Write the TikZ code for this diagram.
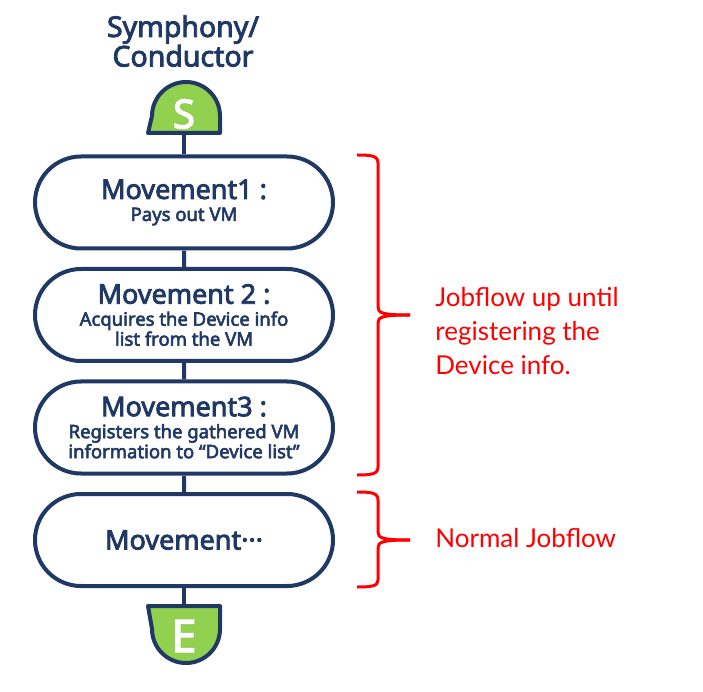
\documentclass[tikz,border=0pt]{standalone}
\usepackage{fontspec}
\usepackage{tikz}
\usetikzlibrary{shapes.misc}

\newfontfamily\notobold{Noto Sans}[FakeBold=3]
\newfontfamily\latofont{Lato}
\definecolor{navy}{RGB}{31,56,100}
\definecolor{leaf}{RGB}{146,208,80}
\definecolor{jobred}{RGB}{255,0,0}
\newcommand\headfont{\notobold\fontsize{27}{20}\selectfont}
\newcommand\subfont{\notobold\fontsize{18.5}{20}\selectfont}

\begin{document}
\begin{tikzpicture}[x=1pt,y=1pt,node distance=112.5pt,line width=4pt,
    move/.style={rounded rectangle,draw=navy,fill=white,minimum width=298pt,minimum height=92pt,
                 align=center,text=navy,inner sep=0pt,font=\subfont},
    term/.style={minimum width=68pt,inner sep=0pt},
    capline/.style={draw=navy,fill=leaf,line width=4pt,line join=round},
    letter/.style={text=white,font=\notobold\fontsize{40}{40}\selectfont},
    brace/.style={draw=jobred,line width=3pt},
    note/.style={anchor=west,align=left,text=jobred,font=\latofont\fontsize{26}{34}\selectfont}]
        \useasboundingbox (0,0) rectangle (703,691);

        \node[align=center,text=navy,font=\notobold\fontsize{28.5}{28}\selectfont] (title) at (183,650) {Symphony/\\Conductor};

        % start and end caps
        \node[term,minimum height=51pt] (S) at (184,585.5) {};
        \draw[capline] (S.south west) -- (S.south east) -- ++(0,17) arc[start angle=0,end angle=180,radius=34] -- cycle;
        \node[letter] (Sl) at (184,577) {S};

        \node[move] (m1) at (184,488.5) {\headfont Movement1 :\\[2pt]Pays out VM};
        \node[move] (m2) [below of=m1] {\headfont Movement 2 :\\[2pt]Acquires the Device info\\list from the VM};
        \node[move] (m3) [below of=m2] {\headfont Movement3 :\\[2pt]Registers the gathered VM\\information to “Device list”};
        \node[move] (m4) [below of=m3] {\headfont Movement···};

        \node[term,minimum height=57pt] (E) at (184,54.5) {};
        \draw[capline] (E.north west) -- (E.north east) -- ++(0,-23) arc[start angle=0,end angle=-180,radius=34] -- cycle;
        \node[letter,font=\notobold\fontsize{45}{45}\selectfont] (El) at (184,55) {E};

        \path[draw=navy] (S.south) edge (m1.north)
                         (m1) edge (m2)
                         (m2) edge (m3)
                         (m3) edge (m4)
                         (m4.south) edge (E.north);

        % red braces and notes
        \draw[brace] (357,536) .. controls (372,536) and (378,535) .. (378,528) -- (378,384)
                     .. controls (378,378) and (382,376) .. (410,376);
        \draw[brace] (410,376) .. controls (382,376) and (378,374) .. (378,368) -- (378,224)
                     .. controls (378,217) and (372,216) .. (357,216);
        \node[note] (jf) at (430,360) {Jobflow up until\\registering the\\Device info.};

        \draw[brace] (357,199) .. controls (372,199) and (378,198) .. (378,191) -- (378,159)
                     .. controls (378,153) and (382,151) .. (410,151);
        \draw[brace] (410,151) .. controls (382,151) and (378,149) .. (378,143) -- (378,111)
                     .. controls (378,105) and (372,104) .. (357,104);
        \node[note] (nj) at (430,153) {Normal Jobflow};
\end{tikzpicture}
\end{document}
